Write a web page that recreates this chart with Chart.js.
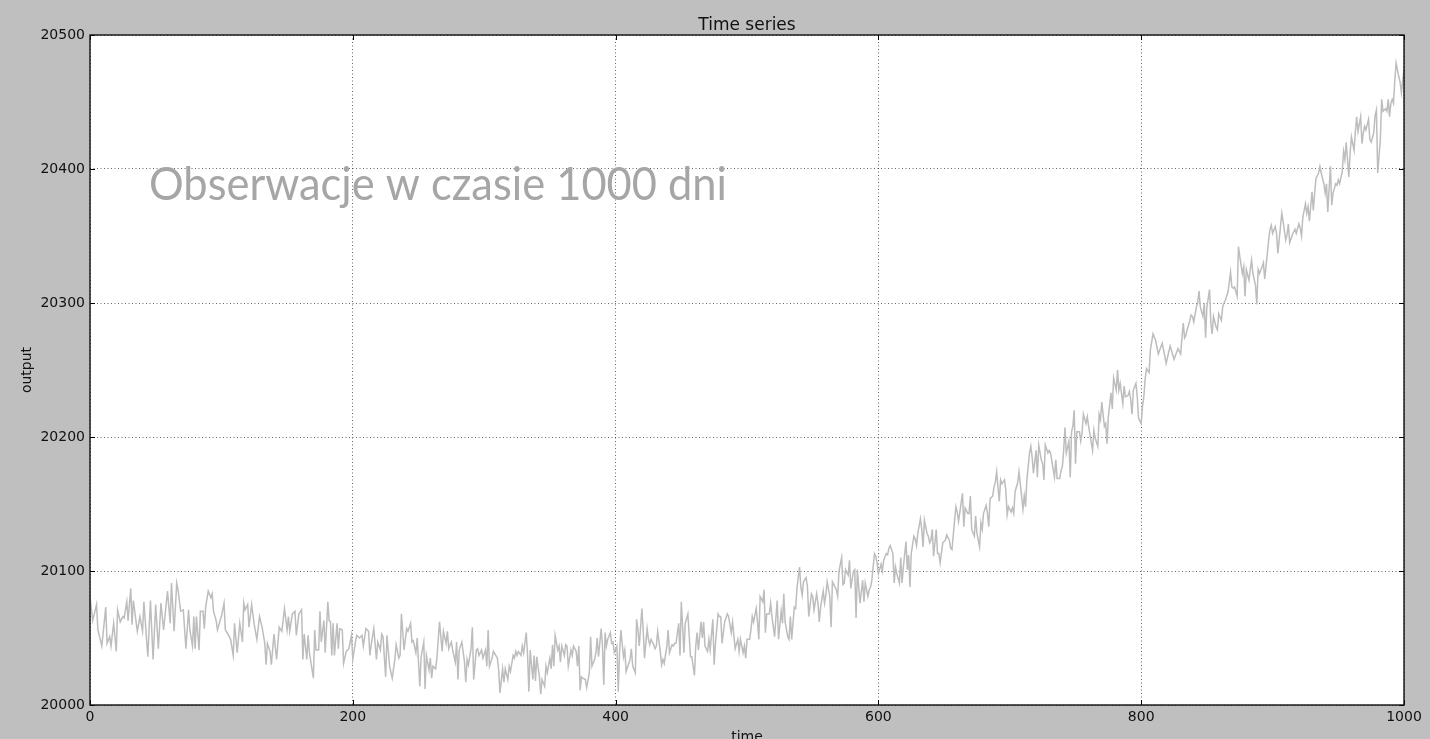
<!DOCTYPE html>
<html>
<head>
<meta charset="utf-8">
<script src="https://cdn.jsdelivr.net/npm/chart.js@4.4.1/dist/chart.umd.min.js"></script>
<style>
  html, body { margin: 0; padding: 0; background: #bfbfbf; }
</style>
</head>
<body>
<canvas id="tsChart" width="1430" height="739"></canvas>
<script>
// values (day, output)
const days = [
  0,2,5,6,9,12,13,15,16,18,20,21,23,25,26,28,29,31,32,33,36,38,40,41,44,46,48,50,52,54,56,59,61,62,64,66,67,69,71,73,75,76,78,79,80,81,83,84,86,87,88,90,92,93,94,96,97,99,100,102,103,105,107,109,110,112,114,116,117,118,120,121,123,125,127,129,131,133,134,135,137,138,140,142,144,146,148,150,151,152,154,156,157,159,161,162,163,165,
  166,167,170,171,172,174,175,176,178,179,181,182,183,184,185,186,188,189,190,192,193,195,197,199,200,202,203,205,207,208,210,212,213,214,216,218,219,221,222,223,225,226,228,230,232,233,235,236,237,239,241,242,244,245,246,248,249,251,252,254,255,256,258,259,260,261,263,264,266,268,269,271,272,273,274,275,276,278,279,280,281,283,285,286,287,288,290,291,292,294,295,296,298,299,301,302,303,304,306,307,310,311,312,314,315,316,318,319,320,
  322,323,324,325,326,328,329,330,332,333,334,335,337,338,339,340,342,343,344,346,347,348,350,351,352,353,354,356,357,358,359,361,362,363,364,366,367,368,370,371,372,373,374,375,377,378,380,381,382,384,385,386,387,389,390,391,392,393,394,396,397,398,399,401,402,403,404,406,407,408,410,411,412,413,415,416,417,418,420,421,422,424,425,426,427,429,430,431,432,434,435,436,437,439,440,441,443,444,445,446,448,449,450,451,452,453,455,456,457,458,460,461,462,463,465,466,467,468,470,471,472,474,475,476,478,479,
  480,481,483,485,486,488,489,490,491,493,494,495,497,498,499,500,502,503,504,505,507,508,509,510,512,513,514,515,517,518,519,521,522,523,524,526,527,528,529,531,532,533,534,536,537,538,540,541,542,543,545,546,547,549,550,551,553,554,555,556,558,559,560,561,563,564,565,567,568,569,570,572,573,574,575,577,578,579,581,582,583,584,585,586,588,589,590,592,593,594,595,597,598,599,600,602,603,604,606,607,608,609,611,612,613,614,616,617,618,619,621,622,623,624,625,627,628,629,630,632,633,634,635,637,638,639,
  640,641,642,644,645,646,647,649,650,651,652,654,655,656,658,659,660,661,663,664,665,666,668,669,670,671,673,674,675,677,678,679,680,682,683,684,685,687,688,689,690,692,693,694,696,697,698,699,701,702,703,704,706,707,708,710,711,712,713,715,716,717,718,720,721,722,724,725,726,727,729,730,731,732,734,735,736,738,739,740,741,742,743,745,746,747,748,749,750,751,753,754,755,756,758,759,760,761,763,764,765,767,768,769,770,772,773,774,775,777,778,779,781,782,783,784,786,787,788,790,791,792,793,794,796,797,798,800,801,802,803,804,806,807,
  809,811,813,816,819,822,825,828,830,832,833,834,835,837,838,839,840,842,843,844,845,847,848,849,850,852,853,854,855,857,858,859,861,862,863,864,866,867,868,869,870,871,873,874,875,877,878,879,880,882,883,884,885,887,888,889,890,892,893,894,896,897,898,899,900,902,903,904,906,907,908,910,911,912,913,915,916,917,918,920,921,922,923,925,926,927,928,930,931,932,933,935,936,937,939,940,941,942,944,945,946,948,949,950,951,953,954,955,956,958,959,960,962,963,964,965,967,968,969,970,971,973,974,975,977,978,979,980,982,983,984,986,987,988,989,990,991,992,993,994,996,997,998,1000
];

const output = [
  20081,20063,20075,20056,20044,20073,20046,20051,20044,20061,20040,20071,20062,20066,20065,20077,20063,20087,20060,20078,20055,20066,20055,20077,20036,20078,20034,20075,20042,20076,20056,20085,20061,20091,20055,20091,20086,20070,20071,20042,20071,20056,20044,20066,20042,20066,20041,20070,20070,20057,20073,20085,20080,20083,20070,20063,20056,20063,20066,20076,20056,20053,20049,20037,20061,20039,20061,20047,20076,20071,20075,20058,20075,20060,20049,20066,20058,20046,20030,20046,20040,20030,20053,20034,20058,20055,20072,20056,20066,20055,20068,20070,20052,20068,20071,20034,20053,20034,
  20052,20039,20020,20056,20041,20041,20070,20047,20063,20039,20077,20063,20062,20037,20061,20037,20061,20042,20057,20056,20031,20040,20042,20052,20034,20047,20052,20050,20052,20044,20057,20055,20037,20045,20057,20034,20047,20041,20053,20051,20021,20052,20029,20020,20034,20045,20035,20037,20068,20041,20057,20055,20061,20047,20048,20039,20050,20014,20036,20047,20012,20037,20026,20035,20020,20029,20027,20035,20062,20040,20055,20046,20055,20042,20045,20047,20041,20032,20047,20019,20041,20047,20032,20017,20034,20030,20042,20058,20019,20041,20042,20037,20041,20035,20041,20029,20056,20029,20035,20040,20035,20026,20009,20027,20017,20027,20019,20029,20025,
  20037,20035,20040,20037,20040,20037,20044,20039,20054,20037,20010,20041,20019,20037,20018,20036,20021,20008,20019,20014,20029,20024,20035,20027,20045,20029,20052,20041,20044,20032,20044,20037,20045,20044,20029,20041,20037,20044,20040,20029,20044,20011,20021,20020,20019,20013,20024,20051,20029,20034,20039,20050,20036,20057,20044,20015,20054,20044,20049,20054,20046,20047,20039,20044,20010,20039,20056,20036,20041,20025,20031,20034,20042,20029,20024,20064,20056,20044,20072,20056,20035,20057,20049,20045,20049,20045,20042,20044,20055,20040,20030,20034,20031,20044,20056,20039,20045,20044,20046,20046,20061,20037,20077,20059,20039,20061,20068,20052,20036,20036,20022,20044,20054,20041,20062,20050,20062,20044,20040,20049,20041,20064,20030,20046,20068,20066,
  20066,20046,20062,20068,20066,20054,20062,20052,20042,20049,20040,20049,20039,20044,20035,20049,20049,20056,20066,20062,20072,20062,20049,20081,20077,20086,20054,20068,20068,20076,20066,20051,20065,20078,20049,20070,20061,20083,20062,20051,20049,20066,20049,20073,20072,20087,20103,20088,20082,20092,20095,20088,20066,20083,20081,20071,20083,20076,20062,20073,20085,20076,20082,20092,20081,20058,20092,20088,20086,20081,20100,20110,20090,20091,20101,20097,20108,20087,20100,20101,20065,20101,20088,20076,20093,20077,20091,20081,20086,20088,20093,20113,20111,20106,20098,20105,20100,20108,20113,20112,20117,20119,20113,20091,20103,20098,20091,20110,20091,20103,20122,20101,20112,20088,20113,20126,20124,20119,20128,20139,20131,20118,20138,20128,20126,20121,
  20123,20131,20111,20131,20113,20113,20106,20121,20122,20123,20127,20123,20117,20116,20138,20148,20144,20137,20151,20158,20133,20147,20143,20143,20156,20131,20126,20141,20128,20118,20136,20131,20143,20149,20143,20133,20154,20156,20163,20166,20174,20152,20168,20165,20168,20160,20142,20148,20144,20147,20143,20159,20166,20174,20165,20146,20156,20148,20168,20188,20193,20185,20173,20190,20170,20194,20183,20180,20168,20194,20188,20190,20188,20182,20170,20183,20169,20169,20175,20178,20190,20207,20188,20197,20170,20204,20208,20220,20180,20204,20204,20197,20203,20217,20210,20215,20208,20202,20190,20205,20199,20193,20217,20213,20226,20208,20210,20195,20215,20233,20221,20244,20235,20250,20235,20240,20225,20238,20230,20231,20234,20228,20217,20235,20240,20230,20214,20210,20223,20230,20243,20251,20248,20265,
  20277,20272,20262,20270,20255,20268,20258,20266,20262,20285,20274,20276,20280,20287,20291,20290,20286,20297,20300,20309,20297,20290,20300,20274,20297,20310,20285,20277,20290,20282,20280,20292,20287,20297,20300,20302,20308,20315,20323,20312,20311,20312,20305,20342,20335,20322,20327,20305,20325,20317,20325,20332,20322,20313,20299,20325,20322,20327,20330,20318,20337,20347,20355,20358,20352,20357,20352,20337,20357,20367,20361,20347,20351,20359,20345,20351,20353,20355,20352,20359,20356,20350,20364,20374,20367,20372,20361,20383,20369,20382,20393,20397,20402,20397,20389,20382,20389,20368,20402,20373,20382,20389,20388,20392,20389,20398,20413,20407,20420,20394,20412,20424,20414,20428,20439,20428,20439,20419,20427,20432,20429,20437,20422,20420,20427,20440,20444,20397,20422,20452,20443,20445,20443,20452,20439,20449,20452,20449,20466,20479,20469,20465,20457,20474
];

const xTicks = [0, 200, 400, 600, 800, 1000];
const yTicks = [20000, 20100, 20200, 20300, 20400, 20500];
const chartTitle = "Time series";
const xLabel = "time";
const yLabel = "output";
const note = "Obserwacje w czasie 1000 dni";

const tickFont = { family: "'DejaVu Sans'", size: 14 };

// grey figure, white axes box, frame, inward ticks and the texts
const figure = {
  id: "figure",
  beforeDraw(chart) {
    const { ctx, chartArea: a } = chart;
    ctx.save();
    ctx.fillStyle = "#bfbfbf";
    ctx.fillRect(0, 0, chart.width, chart.height);
    ctx.fillStyle = "#ffffff";
    ctx.fillRect(a.left, a.top, a.right - a.left, a.bottom - a.top);
    ctx.restore();
  },
  afterDraw(chart) {
    const { ctx, chartArea: a, scales } = chart;
    ctx.save();

    // note text
    ctx.font = "47px Lato";
    ctx.fillStyle = "#a6a6a6";
    ctx.textAlign = "left";
    ctx.textBaseline = "alphabetic";
    const w = ctx.measureText(note).width;
    ctx.translate(149, 200);
    ctx.scale(578 / w, 1);
    ctx.fillText(note, 0, 0);
    ctx.setTransform(1, 0, 0, 1, 0, 0);

    // inward ticks
    ctx.strokeStyle = "#000";
    ctx.lineWidth = 1;
    ctx.beginPath();
    xTicks.forEach(v => {
      const px = Math.round(scales.x.getPixelForValue(v)) + 0.5;
      ctx.moveTo(px, a.bottom); ctx.lineTo(px, a.bottom - 5);
      ctx.moveTo(px, a.top); ctx.lineTo(px, a.top + 5);
    });
    yTicks.forEach(v => {
      const py = Math.round(scales.y.getPixelForValue(v)) + 0.5;
      ctx.moveTo(a.left, py); ctx.lineTo(a.left + 5, py);
      ctx.moveTo(a.right, py); ctx.lineTo(a.right - 5, py);
    });
    ctx.stroke();

    ctx.lineWidth = 1.4;
    ctx.strokeStyle = "#111";
    ctx.strokeRect(a.left, a.top, a.right - a.left, a.bottom - a.top);

    // title
    ctx.fillStyle = "#111";
    ctx.font = "17px 'DejaVu Sans'";
    ctx.textAlign = "center";
    ctx.textBaseline = "alphabetic";
    ctx.fillText(chartTitle, (a.left + a.right) / 2, 30);
    ctx.restore();
  }
};

new Chart(document.getElementById("tsChart"), {
  type: "line",
  data: {
    datasets: [{
      label: yLabel,
      data: days.map((d, i) => ({ x: d, y: output[i] })),
      borderColor: "#bdbdbd",
      borderWidth: 1.5,
      pointRadius: 0,
      tension: 0,
      fill: false
    }]
  },
  options: {
    responsive: false,
    animation: false,
    layout: { padding: { left: 0, right: 26, top: 35, bottom: 0 } },
    scales: {
      x: {
        type: "linear",
        min: 0,
        max: 1000,
        afterBuildTicks: s => { s.ticks = xTicks.map(v => ({ value: v })); },
        afterFit: s => { s.height = 34; },
        ticks: {
          color: "#111",
          font: tickFont,
          padding: 4,
          maxRotation: 0,
          callback: v => String(v)
        },
        grid: { color: "rgba(0,0,0,0.6)", lineWidth: 1, drawTicks: false },
        border: { display: false, dash: [1, 2.5] },
        title: {
          display: true,
          text: xLabel,
          color: "#111",
          font: { family: "'DejaVu Sans'", size: 14, lineHeight: 0.2 },
          padding: 0
        }
      },
      y: {
        min: 20000,
        max: 20500,
        afterBuildTicks: s => { s.ticks = yTicks.map(v => ({ value: v })); },
        afterFit: s => { s.width = 90; },
        ticks: {
          color: "#111",
          font: tickFont,
          padding: 5,
          callback: v => String(v)
        },
        grid: { color: "rgba(0,0,0,0.6)", lineWidth: 1, drawTicks: false },
        border: { display: false, dash: [1, 2.5] },
        title: {
          display: true,
          text: yLabel,
          color: "#111",
          font: { family: "'DejaVu Sans'", size: 14 },
          padding: { top: 19, bottom: 0 }
        }
      }
    },
    plugins: {
      legend: { display: false },
      tooltip: { enabled: false }
    }
  },
  plugins: [figure]
});
</script>
</body>
</html>
